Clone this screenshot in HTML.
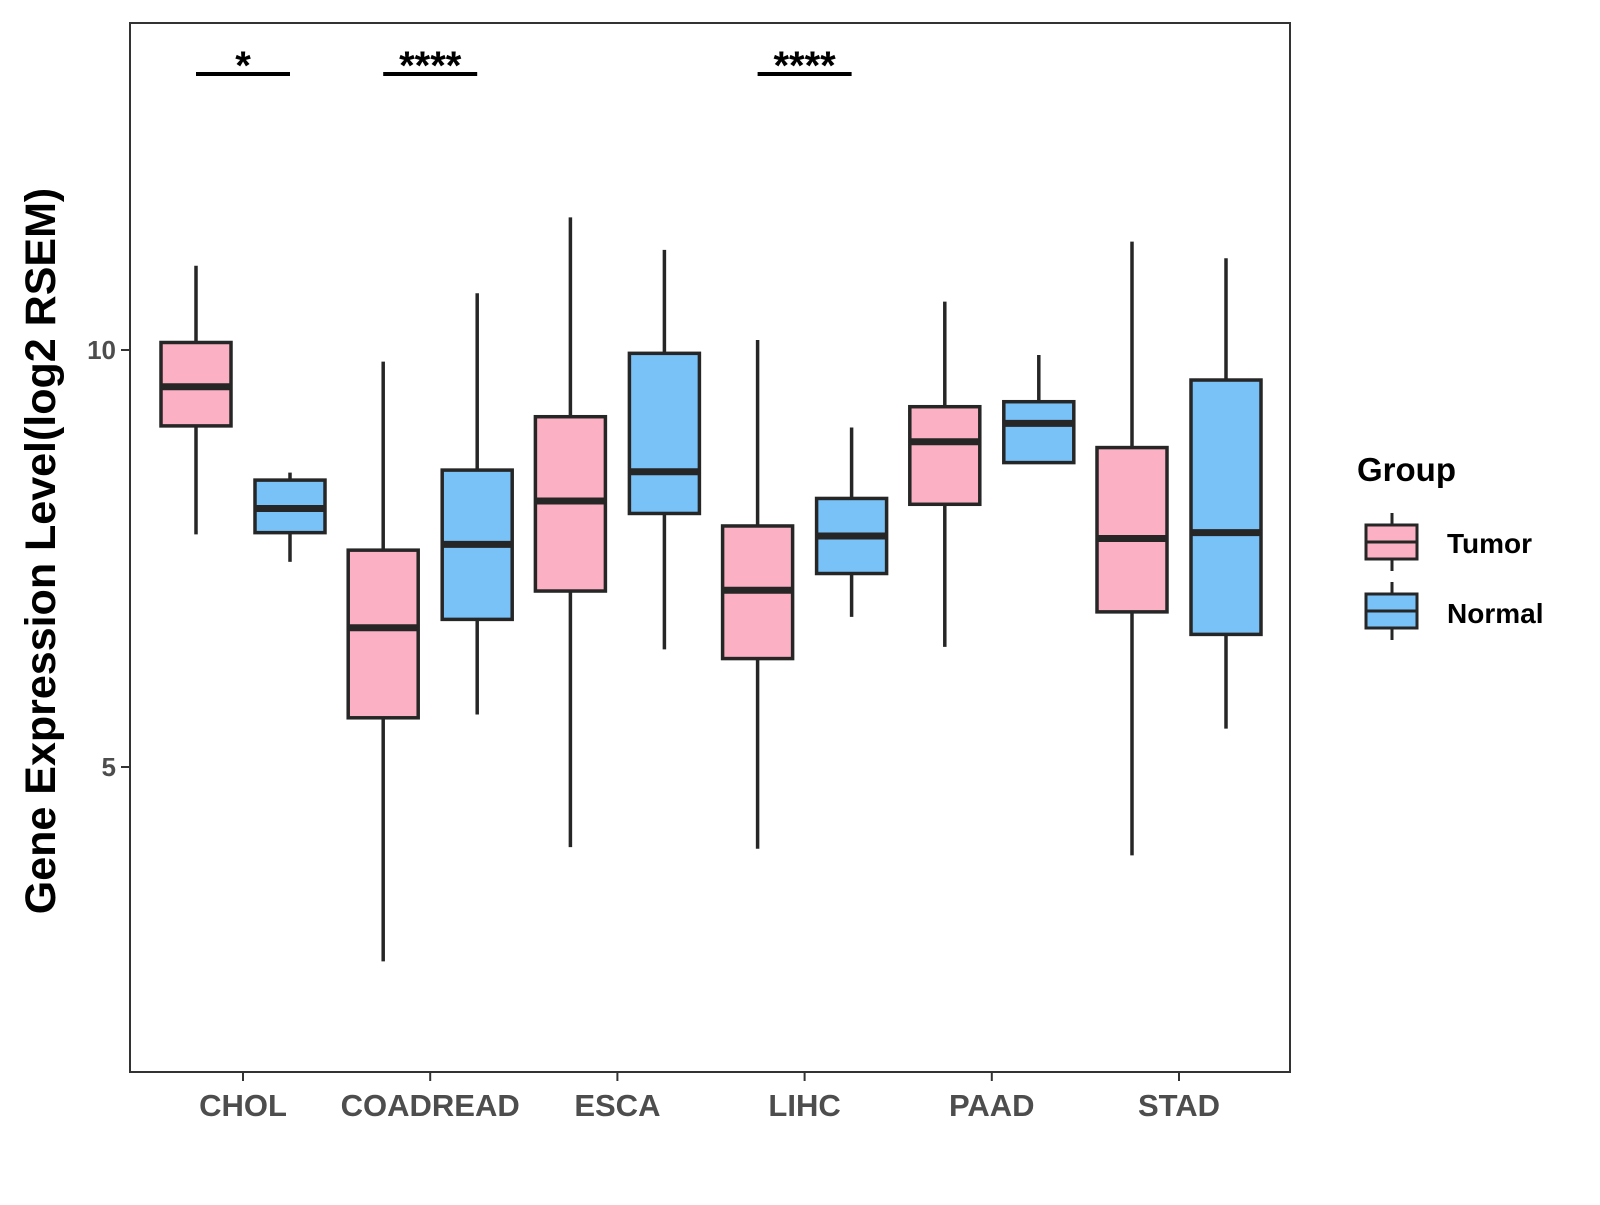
<!DOCTYPE html>
<html><head><meta charset="utf-8"><style>
body{margin:0;background:#fff}
svg text{font-family:"Liberation Sans",Arial,sans-serif;font-weight:bold}
</style></head><body>
<svg id="chart" width="1600" height="1200" xmlns="http://www.w3.org/2000/svg">
<g id="marks"></g>
<text x="55" y="551" transform="rotate(-90 55 551)" text-anchor="middle" font-size="43" fill="#000">Gene Expression Level(log2 RSEM)</text>
<g transform="translate(-7,-3)">
<text x="1364" y="484" font-size="33" fill="#000">Group</text>
<g>
<line x1="1399" x2="1399" y1="516" y2="574" stroke="#262626" stroke-width="3"/>
<rect x="1373" y="528" width="51" height="34" fill="#FBB1C3" stroke="#262626" stroke-width="3"/>
<line x1="1373" x2="1424" y1="545" y2="545" stroke="#262626" stroke-width="3"/>
<text x="1454" y="556" font-size="28" fill="#000">Tumor</text>
</g>
<g>
<line x1="1399" x2="1399" y1="585" y2="643" stroke="#262626" stroke-width="3"/>
<rect x="1373" y="597" width="51" height="34" fill="#78C2F8" stroke="#262626" stroke-width="3"/>
<line x1="1373" x2="1424" y1="614" y2="614" stroke="#262626" stroke-width="3"/>
<text x="1454" y="626" font-size="28" fill="#000">Normal</text>
</g>
</g>
</svg>
<script>
const categories=["CHOL","COADREAD","ESCA","LIHC","PAAD","STAD"];
const groups=["Tumor","Normal"];
// [low, q1, median, q3, high]
const tumorStats=[[7.79,9.09,9.56,10.09,11.01],[2.67,5.59,6.67,7.60,9.86],[4.04,7.11,8.19,9.20,11.59],[4.02,6.30,7.12,7.89,10.12],[6.44,8.15,8.90,9.32,10.58],[3.94,6.86,7.74,8.83,11.30]];
const normalStats=[[7.46,7.81,8.10,8.44,8.53],[5.63,6.77,7.67,8.56,10.68],[6.41,8.04,8.54,9.96,11.20],[6.80,7.32,7.77,8.22,9.07],[8.65,8.65,9.12,9.38,9.94],[5.46,6.59,7.81,9.64,11.10]];
const yTicks=[5,10];
const sigLabels=["*","****","","****","",""];
const colors={Tumor:"#FBB1C3",Normal:"#78C2F8"};

const NS="http://www.w3.org/2000/svg";
const L=130,T=23,R=1290,B=1072;
const y=v=>350-(v-10)*83.4;
const x=i=>243+i*187.2;
const svg=document.getElementById('marks');
function mk(tag,a,parent){const e=document.createElementNS(NS,tag);for(const k in a)e.setAttribute(k,a[k]);(parent||svg).appendChild(e);return e;}

const panel=mk('rect',{x:L,y:T,width:R-L,height:B-T,fill:'none',stroke:'#333','stroke-width':2});



yTicks.forEach(v=>{
  const t=mk('line',{x1:L-9,x2:L,y1:y(v),y2:y(v),stroke:'#333','stroke-width':2});
  
  
  const l=mk('text',{x:L-14,y:y(v)+9,'text-anchor':'end','font-size':26,fill:'#4d4d4d'});
  l.textContent=v;
  
  
});

const hw=35,off=47;
categories.forEach((c,i)=>{
  const t=mk('line',{x1:x(i),x2:x(i),y1:B,y2:B+9,stroke:'#333','stroke-width':2});
  
  
  const l=mk('text',{x:x(i),y:1116,'text-anchor':'middle','font-size':31,fill:'#4d4d4d'});
  l.textContent=c;
  
  
  [[tumorStats[i],-off,'Tumor'],[normalStats[i],off,'Normal']].forEach(([s,o,g])=>{
    const cx=x(i)+o;
    const gr=mk('g',{});
    
    
    mk('line',{x1:cx,x2:cx,y1:y(s[4]),y2:y(s[3]),stroke:'#262626','stroke-width':3.5},gr);
    mk('line',{x1:cx,x2:cx,y1:y(s[1]),y2:y(s[0]),stroke:'#262626','stroke-width':3.5},gr);
    mk('rect',{x:cx-hw,y:y(s[3]),width:2*hw,height:y(s[1])-y(s[3]),fill:colors[g],stroke:'#262626','stroke-width':3.5},gr);
    mk('line',{x1:cx-hw,x2:cx+hw,y1:y(s[2]),y2:y(s[2]),stroke:'#262626','stroke-width':7},gr);
  });
  if(sigLabels[i]){
    const b=mk('line',{x1:x(i)-off,x2:x(i)+off,y1:74,y2:74,stroke:'#000','stroke-width':4});
    
    
    const s=mk('text',{x:x(i),y:79,'text-anchor':'middle','font-size':40,fill:'#000'});
    s.textContent=sigLabels[i];
    
    
  }
});
</script>
</body></html>
